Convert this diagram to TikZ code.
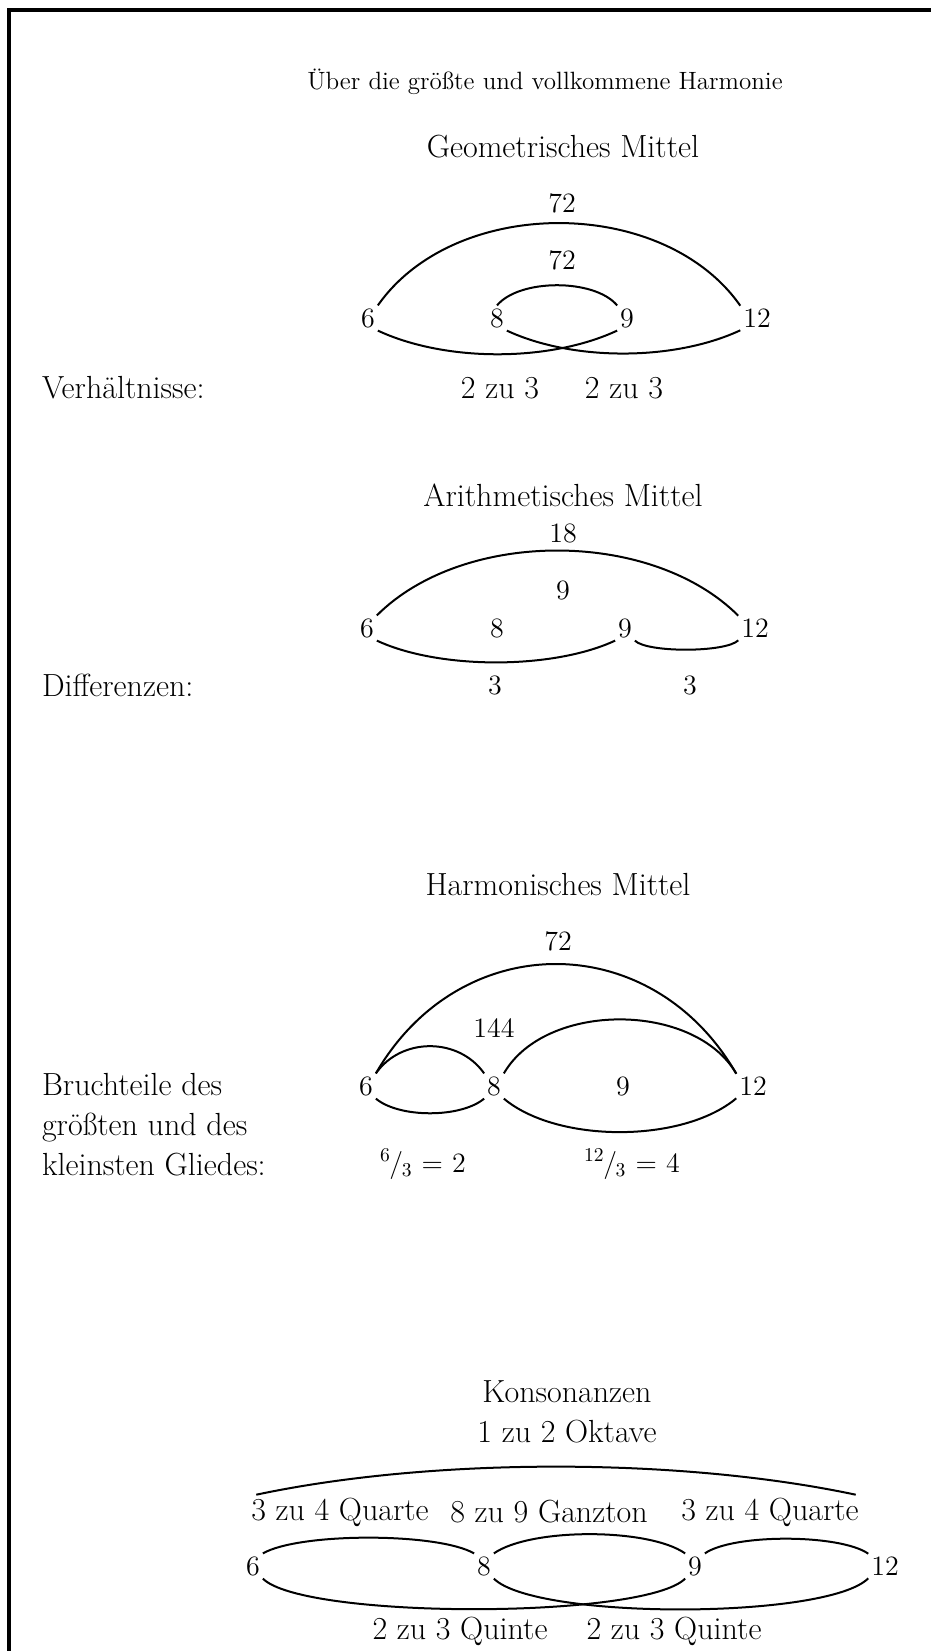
\documentclass[tikz,border=0pt]{standalone}
\usepackage{fontspec}
\usepackage{tikz}

\begin{document}
\begin{tikzpicture}[x=0.5pt,y=-0.5pt,line width=1pt,draw=black]
    \tikzstyle{num}=[inner sep=1pt,font=\fontsize{14}{16}\selectfont]
    \tikzstyle{lbl}=[inner sep=1pt,font=\fontsize{16}{20}\selectfont]
    \tikzstyle{side}=[lbl,anchor=west,align=left]
    \tikzstyle{head}=[inner sep=1pt,font=\fontsize{12.5}{15}\selectfont]

    \useasboundingbox (0,0) rectangle (931,1651);
    % page frame
    \draw[line width=1.6pt] (9,1651) -- (9,10) -- (931,10);

    \node[head] (title) at (545,82) {Über die größte und vollkommene Harmonie};

    % Geometrisches Mittel
    \node[lbl] (g-title) at (563,147) {Geometrisches Mittel};
    \foreach \name/\x in {6/368,8/497,9/627,12/757}
        \node[num] (g-\name) at (\x,318) {\name};
    \node[num] (g-outer) at (562,203) {72};
    \node[num] (g-inner) at (562,260) {72};
    \path (g-6.north east) edge[out=55,in=125,looseness=0.95] (g-12.north west);
    \path (g-8.north) edge[out=50,in=130,looseness=0.75] (g-9.north west);
    \path (g-6.south east) edge[out=-25,in=-155,looseness=0.8] (g-9.south west);
    \path (g-8.south east) edge[out=-25,in=-155,looseness=0.8] (g-12.south west);
    \node[side] (g-side) at (39,388) {Verhältnisse:};
    \node[lbl] (g-r1) at (500,388) {2 zu 3};
    \node[lbl] (g-r2) at (624,388) {2 zu 3};

    % Arithmetisches Mittel
    \node[lbl] (a-title) at (563,495) {Arithmetisches Mittel};
    \foreach \name/\x in {6/367,8/497,9/625,12/755}
        \node[num] (a-\name) at (\x,628) {\name};
    \node[num] (a-outer) at (563,533) {18};
    \node[num] (a-inner) at (563,590) {9};
    \path (a-6.north east) edge[out=45,in=135,looseness=0.87] (a-12.north west);
    \path (a-6.south east) edge[out=-25,in=-155,looseness=0.74] (a-9.south west);
    \path (a-9.south east) edge[out=-45,in=-135,looseness=0.43] (a-12.south west);
    \node[side] (a-side) at (39,685) {Differenzen:};
    \node[num] (a-d1) at (495,685) {3};
    \node[num] (a-d2) at (690,685) {3};

    % Harmonisches Mittel
    \node[lbl] (h-title) at (558,885) {Harmonisches Mittel};
    \foreach \name/\x in {6/366,8/494,12/753}
        \node[num] (h-\name) at (\x,1086) {\name};
    \node[num] (h-mid) at (623,1086) {9};
    \node[num] (h-outer) at (558,941) {72};
    \node[num] (h-inner) at (494,1028) {144};
    \path (h-6.north east) edge[out=60,in=120,looseness=1.2] (h-12.north west);
    \path (h-6.north east) edge[out=55,in=125,looseness=1.05] (h-8.north west);
    \path (h-6.south east) edge[out=-40,in=-140,looseness=0.72] (h-8.south west);
    \path (h-8.north east) edge[out=60,in=120,looseness=0.92] (h-12.north west);
    \path (h-8.south east) edge[out=-40,in=-140,looseness=0.77] (h-12.south west);
    \node[side] (h-side) at (39,1125) {Bruchteile des\\größten und des\\kleinsten Gliedes:};
    \node[num] (h-f1) at (423,1164) {\textsuperscript{6}\kern-0.05em/\kern-0.05em\textsubscript{3} = 2};
    \node[num] (h-f2) at (632,1164) {\textsuperscript{12}\kern-0.05em/\kern-0.05em\textsubscript{3} = 4};

    % Konsonanzen
    \node[lbl] (k-title) at (567,1392) {Konsonanzen};
    \node[lbl] (k-oct) at (567,1432) {1 zu 2 Oktave};
    \node[lbl] (k-q1) at (340,1512) {3 zu 4 Quarte};
    \node[lbl] (k-g) at (549,1512) {8 zu 9 Ganzton};
    \node[lbl] (k-q2) at (770,1512) {3 zu 4 Quarte};
    \foreach \name/\x in {6/253,8/484,9/695,12/885}
        \node[num] (k-\name) at (\x,1566) {\name};
    \path ([xshift=4pt]k-q1.north west) edge[out=12,in=168,looseness=0.77] ([xshift=-3pt]k-q2.north east);
    \path (k-6.north east) edge[out=30,in=150,looseness=0.51] (k-8.north west);
    \path (k-8.north east) edge[out=35,in=145,looseness=0.6] (k-9.north west);
    \path (k-9.north east) edge[out=35,in=145,looseness=0.54] (k-12.north west);
    \path (k-6.south east) edge[out=-45,in=-135,looseness=0.35] (k-9.south west);
    \path (k-8.south east) edge[out=-45,in=-135,looseness=0.4] (k-12.south west);
    \node[lbl] (k-f1) at (460,1631) {2 zu 3 Quinte};
    \node[lbl] (k-f2) at (674,1631) {2 zu 3 Quinte};
\end{tikzpicture}
\end{document}
